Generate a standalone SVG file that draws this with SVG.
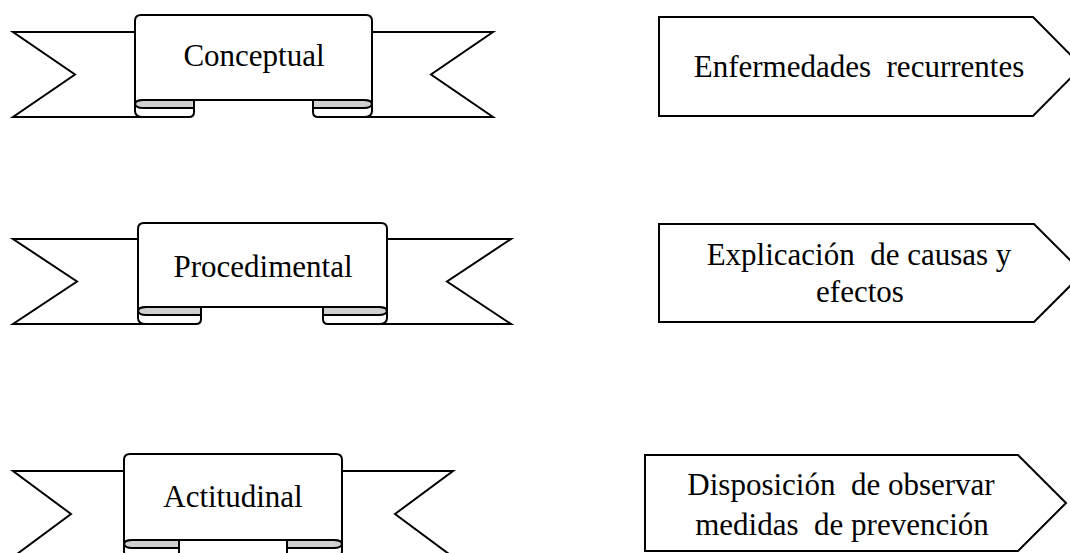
<svg xmlns="http://www.w3.org/2000/svg" width="1070" height="553" viewBox="0 0 1070 553">
<style>
.o{fill:#fff;stroke:#000;stroke-width:2;stroke-linejoin:miter}
.g{fill:#d0d0d0;stroke:#000;stroke-width:2}
.t{font-family:"Liberation Serif","Times New Roman",serif;font-size:31px;fill:#000;text-anchor:middle}
</style>
<rect width="1070" height="553" fill="#fff"/>
<g id="ribbon-conceptual">
<path class="o" d="M13,32 H145 V117 H13 L75,74.5 Z"/>
<path class="o" d="M493,32 H362 V117 H493 L431,74.5 Z"/>
<path class="o" d="M194,100 V112 Q194,117 189,117 H143 Q135,117 135,111 V104 Z"/>
<path class="g" d="M194,100 V108 H143 Q136,108 135,104 Q135,100 143,100 Z"/>
<path class="o" d="M313,100 V112 Q313,117 318,117 H364 Q372,117 372,111 V104 Z"/>
<path class="g" d="M313,100 V108 H364 Q371,108 372,104 Q372,100 364,100 Z"/>
<path class="o" d="M141,15 H366 Q372,15 372,21 V104 Q372,100 364,100 H143 Q135,100 135,104 V21 Q135,15 141,15 Z"/>
<text class="t" x="254" y="66">Conceptual</text>
</g>
<g id="ribbon-procedimental">
<path class="o" d="M13,239 H148 V324 H13 L77,281.5 Z"/>
<path class="o" d="M511,239 H377 V324 H511 L447,281.5 Z"/>
<path class="o" d="M201,307 V319 Q201,324 196,324 H146 Q138,324 138,318 V311 Z"/>
<path class="g" d="M201,307 V315 H146 Q139,315 138,311 Q138,307 146,307 Z"/>
<path class="o" d="M323,307 V319 Q323,324 328,324 H379 Q387,324 387,318 V311 Z"/>
<path class="g" d="M323,307 V315 H379 Q386,315 387,311 Q387,307 379,307 Z"/>
<path class="o" d="M144,223 H381 Q387,223 387,229 V311 Q387,307 379,307 H146 Q138,307 138,311 V229 Q138,223 144,223 Z"/>
<text class="t" x="263" y="277">Procedimental</text>
</g>
<g id="ribbon-actitudinal">
<path class="o" d="M13,471 H134 V557 H13 L71,514 Z"/>
<path class="o" d="M453,471 H332 V557 H453 L395,514 Z"/>
<path class="o" d="M179,540 V552 Q179,557 174,557 H132 Q124,557 124,551 V544 Z"/>
<path class="g" d="M179,540 V548 H132 Q125,548 124,544 Q124,540 132,540 Z"/>
<path class="o" d="M287,540 V552 Q287,557 292,557 H334 Q342,557 342,551 V544 Z"/>
<path class="g" d="M287,540 V548 H334 Q341,548 342,544 Q342,540 334,540 Z"/>
<path class="o" d="M130,454 H336 Q342,454 342,460 V544 Q342,540 334,540 H132 Q124,540 124,544 V460 Q124,454 130,454 Z"/>
<text class="t" x="233" y="507">Actitudinal</text>
</g>
<g id="box-enfermedades">
<path class="o" d="M659,17 H1033 L1082,66.5 L1033,116 H659 Z"/>
<text class="t" x="859" y="77" xml:space="preserve">Enfermedades  recurrentes</text>
</g>
<g id="box-explicacion">
<path class="o" d="M659,224 H1034 L1083,273 L1034,322 H659 Z"/>
<text class="t" x="859" y="265" xml:space="preserve">Explicación  de causas y</text>
<text class="t" x="860" y="302">efectos</text>
</g>
<g id="box-disposicion">
<path class="o" d="M645,455 H1018 L1066,503 L1018,551 H645 Z"/>
<text class="t" x="841" y="495" xml:space="preserve">Disposición  de observar</text>
<text class="t" x="842" y="535" xml:space="preserve">medidas  de prevención</text>
</g>
<g id="connectors"></g>
</svg>
